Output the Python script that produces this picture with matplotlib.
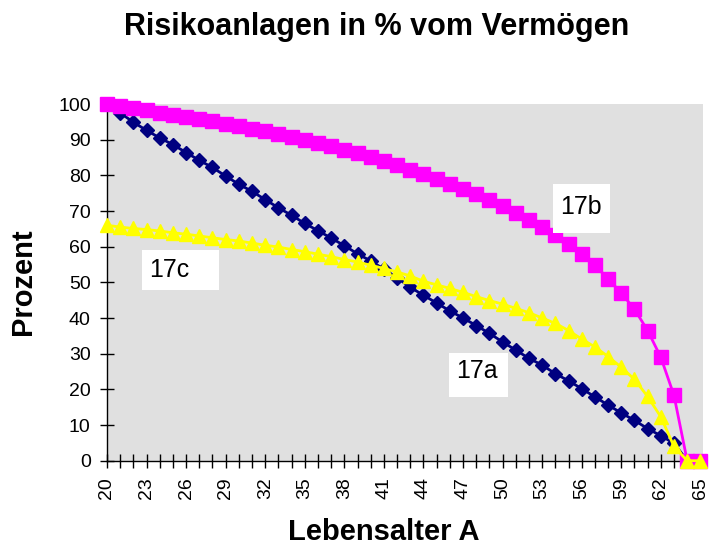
import numpy as np
import matplotlib
matplotlib.use('Agg')
import matplotlib.pyplot as plt
from matplotlib.ticker import MultipleLocator, FixedLocator
from matplotlib.patches import Rectangle

plt.rcParams['font.family'] = ['Liberation Sans', 'DejaVu Sans']

ages = list(range(20, 66))
s17a = [100, 97.5, 94.9, 92.6, 90.5, 88.6, 86.4, 84.2, 82.2, 79.8, 77.5, 75.5, 73.2, 70.9, 68.8,
        66.5, 64.5, 62.4, 60.3, 58.0, 56.0, 53.7, 51.3, 48.6, 46.4, 44.2, 42.0, 40.0, 37.9, 35.7,
        33.3, 31.0, 28.7, 26.8, 24.4, 22.4, 20.2, 17.9, 15.6, 13.4, 11.3, 9.0, 7.0, 4.9, 0, 0]
s17b = [100, 99.4, 98.8, 98.2, 97.6, 97.0, 96.4, 95.8, 95.1, 94.4, 93.7, 93.0, 92.3, 91.5, 90.7,
        89.9, 89.0, 88.1, 87.2, 86.2, 85.2, 84.1, 83.0, 81.6, 80.5, 79.1, 77.7, 76.3, 74.9, 73.1,
        71.3, 69.4, 67.5, 65.5, 63.2, 60.8, 58.0, 54.8, 51.0, 47.0, 42.5, 36.5, 29.0, 18.3, 0, 0]
s17c = [66.0, 65.5, 65.1, 64.8, 64.4, 63.9, 63.5, 63.0, 62.5, 62.0, 61.6, 61.0, 60.4, 59.9, 59.2,
        58.6, 57.9, 57.2, 56.4, 55.7, 54.8, 53.9, 52.9, 51.8, 50.3, 49.3, 48.3, 47.2, 46.0, 44.9,
        43.9, 42.7, 41.5, 40.0, 38.5, 36.5, 34.1, 31.9, 29.2, 26.2, 22.8, 18.0, 12.3, 4.0, 0, 0]
age_labels = ages[::3]

fig = plt.figure(figsize=(7.1, 5.47), dpi=100)
ax = fig.add_axes([107 / 710, 1 - 460.7 / 547, 596 / 710, 356.7 / 547])
ax.set_facecolor('#E0E0E0')

ax.plot(ages, s17a, color='#000080', lw=2, marker='D', ms=7.5, mec='#000080', clip_on=False, zorder=3)
ax.plot(ages, s17b, color='#FF00FF', lw=2, marker='s', ms=9.5, mec='#FF00FF', clip_on=False, zorder=4)
ax.plot(ages, s17c, color='#FFFF00', lw=2, marker='^', ms=10, mec='#FFFF00', clip_on=False, zorder=5)

ax.set_xlim(20, 65.2)
ax.set_ylim(0, 100)
ax.xaxis.set_major_locator(FixedLocator(age_labels))
ax.xaxis.set_minor_locator(FixedLocator(ages))
ax.yaxis.set_major_locator(MultipleLocator(10))
ax.tick_params(axis='both', which='both', direction='inout', length=9.5, width=1, color='black')
ax.tick_params(axis='x', which='major', labelsize=14, labelrotation=90, pad=7)
ax.tick_params(axis='y', which='major', labelsize=14, pad=7)
for sp in ['top', 'right']:
    ax.spines[sp].set_visible(False)
for sp in ['left', 'bottom']:
    ax.spines[sp].set_color('black')
    ax.spines[sp].set_linewidth(1)
    ax.spines[sp].set_zorder(2)

# label boxes
boxes = [('17c', (22.65, 47.8), 5.83, 11.2, (24.7, 53.4)),
         ('17b', (53.86, 63.7), 4.32, 14.0, (55.98, 71.0)),
         ('17a', (45.9, 17.9), 4.48, 12.3, (48.03, 25.1))]
for txt, xy, w, h, tpos in boxes:
    ax.add_patch(Rectangle(xy, w, h, facecolor='white', edgecolor='none', zorder=6))
    ax.text(tpos[0], tpos[1], txt, fontsize=18, ha='center', va='center', zorder=7)

fig.text(377 / 710, 1 - 27 / 547, 'Risikoanlagen in % vom Vermögen', fontsize=22,
         fontweight='bold', ha='center', va='center')
fig.text(23 / 710, 1 - 282 / 547, 'Prozent', fontsize=21, fontweight='bold',
         rotation=90, ha='center', va='center')
fig.text(384 / 710, 1 - 532 / 547, 'Lebensalter A', fontsize=21, fontweight='bold',
         ha='center', va='center')

fig.savefig('out.png', dpi=100)
